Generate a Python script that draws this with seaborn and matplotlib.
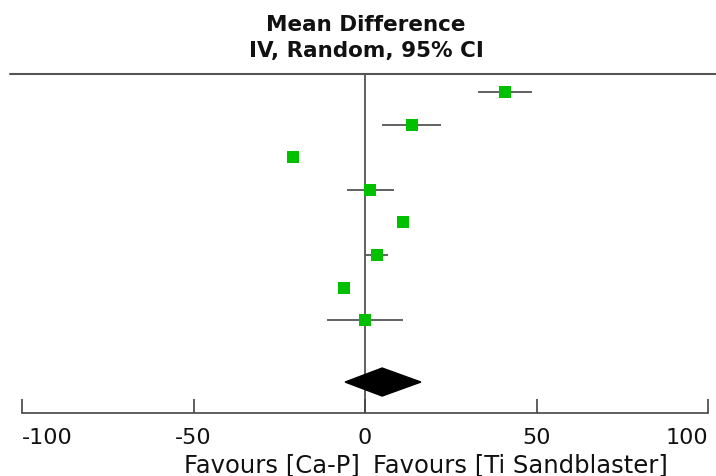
import matplotlib
matplotlib.use("Agg")
import matplotlib.pyplot as plt
import seaborn as sns
import pandas as pd
from matplotlib.patches import Polygon
from matplotlib.lines import Line2D

# Study estimates (mean difference, 95% CI)
row_pos = [1, 2, 3, 4, 5, 6, 7, 8]
mean_diff = [40.8, 13.7, -21.0, 1.5, 11.0, 3.5, -6.1, -0.1]
ci_low = [33.0, 5.0, -22.2, -5.2, 10.0, 0.0, -7.6, -11.0]
ci_high = [48.7, 22.2, -19.8, 8.5, 12.0, 6.7, -4.7, 11.0]

# Pooled estimate
pooled_pos = 9.9
pooled_md = 5.0
pooled_low = -5.8
pooled_high = 16.3

ticks = [-100, -50, 0, 50, 100]
left_label = "Favours [Ca-P]"
right_label = "Favours [Ti Sandblaster]"

df = pd.DataFrame({"row": row_pos, "md": mean_diff, "lo": ci_low, "hi": ci_high})

sns.set_style("white")
plt.rcParams['font.family'] = ['DejaVu Sans']

fig = plt.figure(figsize=(7.16, 4.77), dpi=100)
ax = fig.add_axes([22 / 716, (477 - 414) / 477, 686 / 716, (414 - 75) / 477])

ax.hlines(df["row"], df["lo"], df["hi"], color="#555555", lw=1.3, zorder=2)
sns.scatterplot(data=df, x="md", y="row", marker="s", s=75, color="#00c000",
                edgecolor="#00c000", linewidth=0, ax=ax, zorder=3)

h = 0.43
diamond = Polygon([[pooled_low, pooled_pos], [pooled_md, pooled_pos - h],
                   [pooled_high, pooled_pos], [pooled_md, pooled_pos + h]],
                  closed=True, facecolor="black", edgecolor="black", zorder=4)
ax.add_patch(diamond)

ax.axvline(0, color="#444444", lw=1.2, zorder=1)

ax.set_xlim(-100, 100)
ax.set_ylim(10.85, 0.45)
ax.set_xticks(ticks)
ax.set_xticklabels([str(t) for t in ticks], fontsize=16)
labels = ax.get_xticklabels()
labels[0].set_ha("left")
labels[-1].set_ha("right")
ax.set_yticks([])
ax.set_xlabel("")
ax.set_ylabel("")
for side in ["left", "right", "top"]:
    ax.spines[side].set_visible(False)
ax.spines["bottom"].set_color("#444444")
ax.spines["bottom"].set_linewidth(1.2)
ax.tick_params(axis="x", bottom=True, direction="in", length=10, width=1.2,
               color="#444444", pad=10, labelcolor="#111111")

# header line
fig.add_artist(Line2D([10 / 716, 1.0], [1 - 75 / 477, 1 - 75 / 477],
                      color="#555555", lw=1.5))

fig.text(366 / 716, 1 - 25 / 477, "Mean Difference", ha="center", va="center",
         fontsize=15.5, fontweight="bold", color="#111111")
fig.text(366 / 716, 1 - 51 / 477, "IV, Random, 95% CI", ha="center", va="center",
         fontsize=15.5, fontweight="bold", color="#111111")

fig.text(360 / 716, 1 - 465 / 477, left_label, ha="right", va="center",
         fontsize=17.5, color="#111111")
fig.text(373 / 716, 1 - 465 / 477, right_label, ha="left", va="center",
         fontsize=17.5, color="#111111")

fig.savefig("out.png", dpi=100)
